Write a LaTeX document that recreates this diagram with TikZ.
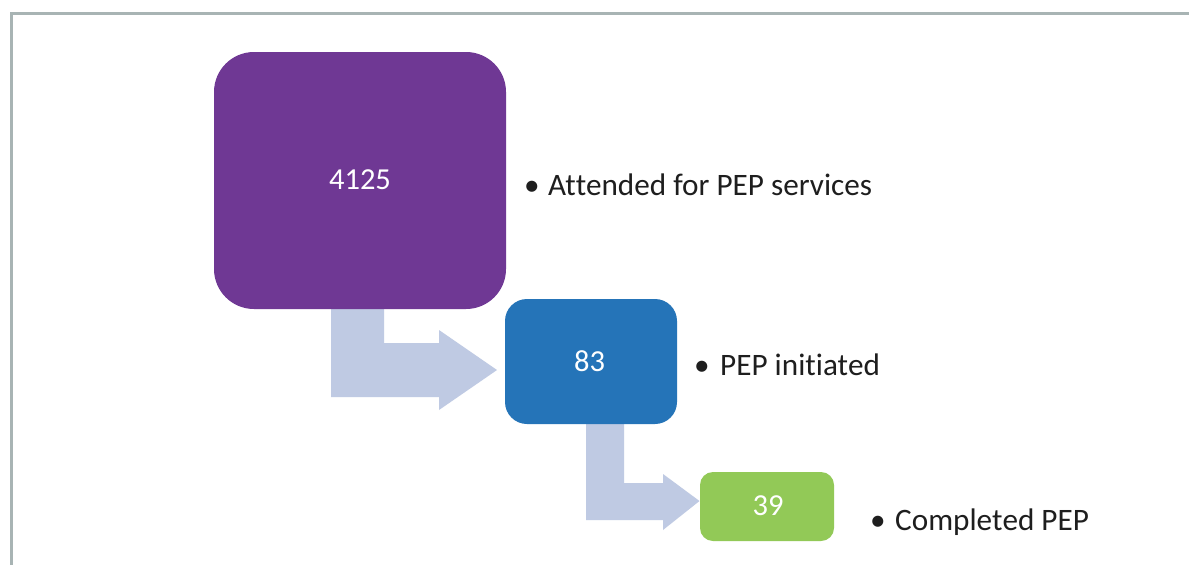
\documentclass[tikz,border=0pt]{standalone}
\usepackage{fontspec}
\setmainfont{Carlito}[Ligatures={NoCommon,NoRare,NoContextual},RawFeature={-liga;-clig;-calt;-dlig}]
\definecolor{framegray}{RGB}{168,180,180}
\definecolor{pepurple}{RGB}{111,56,148}
\definecolor{pepblue}{RGB}{37,116,184}
\definecolor{pepgreen}{RGB}{146,201,87}
\definecolor{arrowblue}{RGB}{191,202,227}
\definecolor{txtgray}{RGB}{30,30,30}
\newcommand{\nl}{\kern0pt{}}
\begin{document}
\begin{tikzpicture}[x=1pt,y=-1pt,
  stagebox/.style={inner sep=0pt,text=white,font=\fontsize{30.5}{36}\selectfont},
  label/.style={anchor=base west,inner sep=0pt,text=txtgray,font=\fontsize{31.2}{36}\selectfont},
  bentarrow/.style={fill=arrowblue,draw=none}]
\useasboundingbox (0,0) rectangle (1189,565);
\fill[white] (0,0) rectangle (1189,565);
\draw[framegray,line width=2.5pt] (11.5,565) -- (11.5,13.5) -- (1189,13.5);

% connectors (bent block arrows)
\fill[arrowblue] (331,309) -- (384,309) -- (384,343) -- (439,343) -- (439,330)
   -- (497,370) -- (439,410) -- (439,397) -- (331,397) -- cycle;
\fill[arrowblue] (586,424) -- (624,424) -- (624,483) -- (663,483) -- (663,474)
   -- (699.5,501) -- (663,530) -- (663,520) -- (586,520) -- cycle;

% boxes
\node[stagebox,fill=pepurple,minimum width=292pt,minimum height=257pt,rounded corners=40pt] (purple) at (360,180.5) {};
\node[stagebox] (n1) at (360,180) {4125};
\node[stagebox,fill=pepblue,minimum width=172pt,minimum height=125pt,rounded corners=22pt] (blue) at (591,361.5) {};
\node[stagebox] (n2) at (589.5,361) {83};
\node[stagebox,fill=pepgreen,minimum width=134pt,minimum height=69pt,rounded corners=13pt] (green) at (767,506.5) {};
\node[stagebox] (n3) at (768,506) {39};

% labels
\node[label] (l1) at (524,195) {\makebox[24pt][l]{•}At\nl tended for PEP services};
\node[label] (l2) at (694,375) {\makebox[26pt][l]{•}PEP init\nl iat\nl ed};
\node[label] (l3) at (870,530) {\makebox[25pt][l]{•}Complet\nl ed PEP};
\end{tikzpicture}
\end{document}
